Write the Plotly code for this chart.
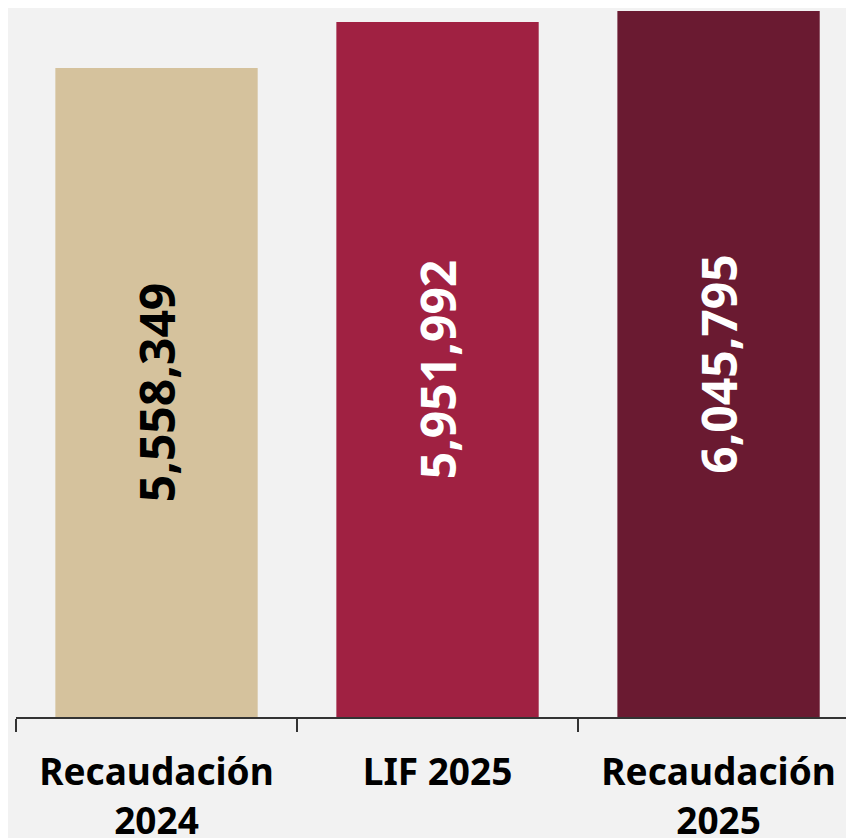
import plotly.graph_objects as go

categories = ["Recaudación<br>2024", "LIF 2025", "Recaudación<br>2025"]
values = [5558349, 5951992, 6045795]
bar_colors = ["#D5C29D", "#A02142", "#6A1A31"]
text_colors = ["#000000", "#FFFFFF", "#FFFFFF"]

fig = go.Figure(
    go.Bar(
        x=categories,
        y=values,
        marker=dict(color=bar_colors, line=dict(width=0)),
        width=0.72,
        texttemplate="%{y:,.0f}",
        textposition="inside",
        insidetextanchor="middle",
        textangle=-90,
        textfont=dict(family="Noto Sans", size=48, color=text_colors, weight="bold"),
        constraintext="none",
        hoverinfo="skip",
    )
)

fig.update_layout(
    width=846,
    height=830,
    margin=dict(l=8, r=0, t=0, b=121, autoexpand=False),
    paper_bgcolor="#F2F2F2",
    plot_bgcolor="#F2F2F2",
    showlegend=False,
    font=dict(family="Noto Sans", color="#000000"),
)

fig.update_xaxes(
    type="category",
    range=[-0.5, 2.482],
    automargin=False,
    showline=True,
    linecolor="#333333",
    linewidth=2,
    ticks="outside",
    ticklen=13,
    tickwidth=1.5,
    tickcolor="#333333",
    tickson="boundaries",
    ticklabelstandoff=22,
    tickfont=dict(family="Noto Sans", size=37, color="#000000", weight="bold"),
    showgrid=False,
    zeroline=False,
)
fig.update_yaxes(
    range=[0, 6071500],
    visible=False,
    automargin=False,
    showgrid=False,
    zeroline=False,
)

fig.write_html("out.html")
